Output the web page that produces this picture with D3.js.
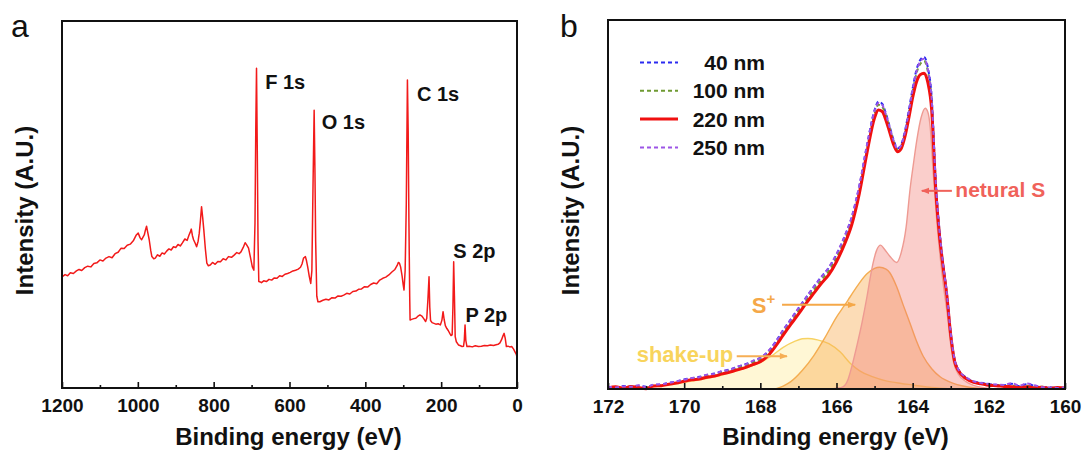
<!DOCTYPE html>
<html>
<head>
<meta charset="utf-8">
<script src="https://cdn.jsdelivr.net/npm/d3@7"></script>
<style>
  body { margin: 0; background: #fff; }
  text { font-family: "Liberation Sans", Arial, sans-serif; }
</style>
</head>
<body>
<div id="chart"></div>
<script>

// ---- panel a : survey spectrum (binding energy eV, intensity a.u.) ----
const surveyE = [1200,1192,1185,1178,1170,1162,1155,1148,1140,1132,1124,1116,1108,1100,1092,1084,1076,1068,1060,1052,
  1044,1036,1028,1020,1012,1004,999,994,990,986,983,980,977,974,970,966,963,958,954,948,942,936,930,924,918,912,906,900,
  894,888,882,876,870,865,862,859,856,853,849,845,841,838,835,832,829,826,822,818,814,809,803,796,789,782,775,768,761,753,
  746,739,733,728,722,717,713,708,703,698,694,691,689,687,685,683,681,677,674,668,661,654,647,640,633,626,619,612,605,598,
  591,584,577,571,567,563,558,555,552,548,544,541,538,535,533,531,528,525,520,512,504,496,488,480,472,464,457,449,441,433,
  425,418,410,402,394,386,378,370,362,354,346,338,330,322,316,313,310,307,303,300,298,295,292,289,287,285,283,282,278,272,
  267,262,256,251,246,241,238,235,232,230,228,224,219,214,208,202,198,195,192,189,185,181,177,174,171,169,167,165,163,160,
  154,149,145,141,139,137,135,132,126,118,110,102,94,86,78,70,62,55,50,45,41,37,34,31,28,24,19,14,9,5,2,0];
const surveyI = [30.3,30.9,30.6,31.4,31.2,31.9,32.3,32.0,32.8,33.2,33.0,33.9,34.1,34.9,34.6,35.4,35.8,35.5,36.6,37.0,
  38.1,38.0,38.9,39.2,40.1,41.7,42.2,40.9,40.4,41.2,41.7,43.0,44.1,42.5,40.4,37.5,35.8,35.2,35.4,36.3,35.9,36.8,36.5,37.3,37.9,37.6,38.5,38.3,
  39.1,38.7,39.6,40.6,40.2,41.7,42.4,43.3,41.5,40.4,39.5,38.5,40.0,42.2,45.5,49.4,46.5,43.1,38.0,34.0,33.3,33.5,34.2,33.7,34.5,34.4,35.2,34.9,35.8,35.6,
  36.2,36.9,36.6,37.1,38.3,39.6,39.0,38.1,35.6,33.0,32.1,45,70,87.1,65,40,29.0,28.9,28.7,29.2,29.0,29.6,29.4,30.0,29.9,30.6,30.4,31.0,31.2,31.5,
  31.9,32.1,32.4,32.9,33.8,35.4,35.8,34.6,33.0,30.5,28.5,32,55,75.7,60,40,25,23.5,23.5,23.9,24.2,24.0,24.6,24.5,25.1,25.0,25.3,25.8,25.6,26.3,
  26.4,26.9,27.0,27.6,27.5,28.2,28.6,28.4,29.4,29.9,30.2,30.8,31.6,32.3,33.4,34.2,34.0,33.0,30.5,28.0,26.7,32,50,83.9,70,45,25,18.5,18.7,18.9,
  19.0,19.5,19.9,19.6,18.9,18.1,19,24,30.3,22,18.4,17.8,17.6,17.4,17.5,17.2,18.5,20.8,18.6,17.0,16.2,15.6,14.8,14.3,14.5,22,34.4,25,14,12.6,
  11.7,11.5,11.3,11.4,13,17.2,13,11.3,11.4,11.2,11.5,11.3,11.4,11.6,11.5,11.7,11.6,11.8,11.9,12.3,13.1,14.2,14.9,13.5,11.3,11.4,11.2,11.3,10.6,9.8,9.2,8.5];

const surveyTicks = [1200,1000,800,600,400,200,0];
const surveyMinor = [1100,900,700,500,300,100];
const peakNames = ["F 1s","O 1s","C 1s","S 2p","P 2p"];
const peakLabelE = [664,515,264,168,136];
const peakLabelI = [81.4,70.5,78.2,35.3,17.9];

// ---- panel b : S 2p high resolution ----
const sE = [172.0,171.8,171.6,171.4,171.2,171.0,170.8,170.6,170.4,170.2,170.0,169.8,169.6,169.4,169.2,169.0,168.8,168.6,168.4,168.2,
  168.0,167.8,167.6,167.4,167.2,167.0,166.8,166.6,166.4,166.2,166.0,165.8,165.6,165.4,165.2,165.0,164.9,164.8,164.7,164.6,
  164.5,164.4,164.3,164.2,164.1,164.0,163.9,163.8,163.7,163.6,163.5,163.4,163.3,163.2,163.1,163.0,162.9,162.8,162.6,162.4,
  162.2,162.0,161.8,161.6,161.4,161.2,161.0,160.8,160.6,160.4,160.2,160.0];
const s40 = [0.5,0.3,0.8,0.5,0.9,0.6,1.1,1.2,1.7,2.0,2.6,2.9,3.3,3.8,4.2,4.8,5.3,6.0,6.7,7.5,
  8.5,10.1,12.8,15.9,18.9,21.8,24.8,27.6,30.4,32.9,36.4,41.0,46.5,55.0,66.0,75.6,77.9,77.3,74.6,71.0,
  67.5,65.2,66.3,70.0,75.5,81.5,86.5,89.2,90.0,87.0,79.0,57.5,43.5,34.0,25.8,15.2,8.1,5.4,3.1,2.0,
  1.7,1.3,1.1,1.0,1.4,0.8,1.3,0.9,0.4,0.5,0.2,0.4];
const s100 = [0.4,0.5,0.4,0.8,0.6,0.4,0.9,1.0,1.5,1.8,2.3,2.7,3.0,3.5,3.9,4.5,5.0,5.6,6.3,7.1,
  8.0,9.6,12.2,15.3,18.2,21.1,24.0,26.8,29.5,32.0,35.5,40.0,45.5,54.0,65.0,74.6,77.0,76.5,74.0,70.5,
  67.0,64.9,65.9,69.4,74.8,80.6,85.5,88.1,88.8,86.0,78.0,56.5,43.0,33.6,25.4,14.9,7.8,5.2,3.0,1.9,
  1.5,1.2,1.0,0.8,0.9,0.6,0.9,0.5,0.6,0.3,0.4,0.3];
const s220 = [0.3,0.6,0.2,0.7,0.4,0.1,0.8,0.9,1.3,1.6,2.1,2.5,2.7,3.2,3.5,4.1,4.6,5.2,5.8,6.6,
  7.4,9.0,11.6,14.6,17.5,20.3,23.2,25.9,28.6,31.0,34.5,39.0,44.5,53.0,64.0,73.5,75.6,75.2,72.8,69.5,
  66.2,64.3,65.2,68.5,73.5,79.0,83.2,85.2,85.6,83.0,75.5,55.0,42.0,33.0,25.0,14.5,7.5,5.0,2.8,1.8,
  1.4,1.0,0.9,0.7,0.6,0.4,0.6,0.3,0.5,0.2,0.4,0.3];
const s250 = [0.6,0.4,0.7,0.6,1.0,0.5,1.2,1.3,1.6,2.1,2.5,3.0,3.2,3.9,4.1,4.9,5.2,6.1,6.6,7.6,
  8.4,10.2,12.7,16.0,18.8,21.9,24.7,27.7,30.3,33.0,36.6,41.1,46.7,55.2,66.1,75.3,77.5,77.0,74.3,70.8,
  67.3,65.1,66.1,69.8,75.2,81.2,86.0,88.8,89.5,86.6,78.6,57.2,43.3,33.8,25.6,15.0,8.0,5.3,3.2,2.1,
  1.6,1.4,1.2,1.1,1.6,0.9,1.5,1.0,0.5,0.4,0.3,0.4];

// fitted components
const shakeE = [171.4,171.0,170.6,170.3,170.0,169.6,169.2,168.8,168.4,168.0,167.7,167.4,167.1,166.9,166.75,166.5,166.2,165.9,165.64,165.4,165.04,164.7,164.3,164.0,163.5,163.0];
const shakeI = [0,0.5,0.9,1.3,1.8,2.5,3.3,4.4,5.7,7.2,9.0,11.3,12.9,13.6,13.7,13.3,12.3,10.0,7.0,5.0,3.3,2.2,1.5,1.1,0.4,0];
const splusE = [167.6,167.4,167.2,166.9,166.6,166.3,166.0,165.8,165.64,165.4,165.2,165.0,164.87,164.7,164.6,164.42,164.25,164.07,163.9,163.72,163.5,163.28,162.95,162.68,162.3,162.0];
const splusI = [0,0.8,2.0,5.0,9.0,14.0,19.5,22.5,25.0,28.7,31.2,32.7,33.0,32.5,31.5,27.7,22.8,17.8,13.0,8.8,5.5,3.3,1.6,0.8,0.2,0];
const neutE = [166.2,166.0,165.83,165.7,165.6,165.47,165.33,165.2,165.1,165.04,164.95,164.84,164.75,164.6,164.42,164.3,164.17,164.07,163.98,163.89,163.78,163.67,163.6,163.54,163.46,163.37,163.28,163.18,163.1,163.0,162.93,162.8,162.6,162.4,162.1,161.8];
const neutI = [0,0.2,0.6,2.5,6,11.5,18,25,31,34.1,37.5,39,38,36,34.3,37,44,54,61,67.5,73.5,76.1,75,71,58.5,46,36,27,21,12,7.5,4,2,1,0.3,0];

const sTicks = [172,170,168,166,164,162,160];
const sMinor = [171,169,167,165,163,161];
const legendNames = ["40 nm","100 nm","220 nm","250 nm"];

// ---- layout ----
const width = 1086, height = 452;
const boxA = {left: 62, right: 517, top: 21, bottom: 388};
const boxB = {left: 608, right: 1065, top: 20, bottom: 389};
const font = '"Liberation Sans", Arial, sans-serif';

const svg = d3.select("#chart").append("svg")
  .attr("width", width).attr("height", height);

// arrow heads
const defs = svg.append("defs");
[["arRed","#f0625a"],["arOrange","#f5a848"],["arOrange2","#f6ae55"]].forEach(([id, c]) => {
  defs.append("marker").attr("id", id)
    .attr("viewBox", "0 0 10 10").attr("refX", 9).attr("refY", 5)
    .attr("markerWidth", 9).attr("markerHeight", 8)
    .attr("markerUnits", "userSpaceOnUse").attr("orient", "auto")
    .append("path").attr("d", "M0,1 L10,5 L0,9 Z").attr("fill", c);
});

function drawAxis(box, x, major, minor) {
  const gx = svg.append("g")
    .attr("transform", `translate(0,${box.bottom})`)
    .call(d3.axisBottom(x).tickValues(major).tickSizeInner(-6).tickSizeOuter(0)
      .tickPadding(11).tickFormat(d3.format("d")));
  gx.select(".domain").remove();
  gx.selectAll("line").attr("stroke", "#111").attr("stroke-width", 1.6);
  gx.selectAll("text").attr("font-family", font).attr("font-size", 19)
    .attr("font-weight", "bold").attr("fill", "#111");
  const gm = svg.append("g")
    .attr("transform", `translate(0,${box.bottom})`)
    .call(d3.axisBottom(x).tickValues(minor).tickSizeInner(-3).tickSizeOuter(0).tickFormat(""));
  gm.select(".domain").remove();
  gm.selectAll("line").attr("stroke", "#111").attr("stroke-width", 1.6);

  svg.append("rect")
    .attr("x", box.left).attr("y", box.top)
    .attr("width", box.right - box.left).attr("height", box.bottom - box.top)
    .attr("fill", "none").attr("stroke", "#111").attr("stroke-width", 2);

  const cx = (box.left + box.right) / 2;
  svg.append("text").attr("x", cx - 1).attr("y", 445)
    .attr("text-anchor", "middle").attr("font-size", 24).attr("font-weight", "bold")
    .attr("fill", "#111").text("Binding energy (eV)");
  svg.append("text")
    .attr("transform", `translate(${box.left - 29},${(box.top + box.bottom) / 2 + 6}) rotate(-90)`)
    .attr("text-anchor", "middle").attr("font-size", 24).attr("font-weight", "bold")
    .attr("fill", "#111").text("Intensity (A.U.)");
}

// ================= panel a =================
const xA = d3.scaleLinear().domain([1200, 0]).range([boxA.left, boxA.right]);
const yA = d3.scaleLinear().domain([0, 100]).range([boxA.bottom, boxA.top]);

const lineA = d3.line().x(d => xA(d[0])).y(d => yA(d[1]));
svg.append("path")
  .datum(d3.zip(surveyE, surveyI))
  .attr("d", lineA)
  .attr("fill", "none").attr("stroke", "#f21a1a").attr("stroke-width", 1.5)
  .attr("stroke-linejoin", "round");

peakNames.forEach((t, i) => {
  svg.append("text").attr("x", xA(peakLabelE[i])).attr("y", yA(peakLabelI[i]))
    .attr("font-size", 20).attr("font-weight", "bold").attr("fill", "#111").text(t);
});

drawAxis(boxA, xA, surveyTicks, surveyMinor);

svg.append("text").attr("x", 11).attr("y", 37).attr("font-size", 32).attr("fill", "#111").text("a");

// ================= panel b =================
const xB = d3.scaleLinear().domain([172, 160]).range([boxB.left, boxB.right]);
const yB = d3.scaleLinear().domain([0, 100]).range([boxB.bottom, boxB.top]);

const areaB = d3.area().curve(d3.curveMonotoneX)
  .x(d => xB(d[0])).y0(yB(0)).y1(d => yB(d[1]));
const lineB = d3.line().curve(d3.curveMonotoneX)
  .x(d => xB(d[0])).y(d => yB(d[1]));

const comps = [
  {e: shakeE, v: shakeI, fill: "rgba(255,234,150,0.40)", stroke: "#f7d263"},
  {e: splusE, v: splusI, fill: "rgba(247,172,80,0.42)", stroke: "#f4ad50"},
  {e: neutE,  v: neutI,  fill: "rgba(242,125,118,0.38)", stroke: "#ee9a92"}
];
comps.forEach(c => {
  const pts = d3.zip(c.e, c.v);
  svg.append("path").datum(pts).attr("d", areaB).attr("fill", c.fill);
  svg.append("path").datum(pts).attr("d", lineB)
    .attr("fill", "none").attr("stroke", c.stroke).attr("stroke-width", 1.4);
});

const series = [
  {v: s40,  color: "#2b2bf0", dash: "4,3", w: 2},
  {v: s100, color: "#6f9a32", dash: "4,3", w: 2},
  {v: s220, color: "#f01010", dash: null,  w: 3},
  {v: s250, color: "#9c55e6", dash: "4,3", w: 2}
];
series.forEach(s => {
  svg.append("path").datum(d3.zip(sE, s.v)).attr("d", lineB)
    .attr("fill", "none").attr("stroke", s.color).attr("stroke-width", s.w)
    .attr("stroke-dasharray", s.dash).attr("stroke-linejoin", "round");
});

// annotations
svg.append("line").attr("x1", xB(162.97)).attr("x2", xB(163.76))
  .attr("y1", yB(53.7)).attr("y2", yB(53.7))
  .attr("stroke", "#f0625a").attr("stroke-width", 2).attr("marker-end", "url(#arRed)");
svg.append("text").attr("x", xB(162.88)).attr("y", yB(51.9))
  .attr("font-size", 21).attr("font-weight", "bold").attr("fill", "#f0625a").text("netural S");

svg.append("line").attr("x1", xB(167.43)).attr("x2", xB(165.51))
  .attr("y1", yB(22.8)).attr("y2", yB(22.8))
  .attr("stroke", "#f5a848").attr("stroke-width", 2).attr("marker-end", "url(#arOrange)");
const sp = svg.append("text").attr("x", xB(167.61)).attr("y", yB(20.6))
  .attr("text-anchor", "end").attr("font-size", 22).attr("font-weight", "bold").attr("fill", "#f5a848");
sp.append("tspan").text("S");
sp.append("tspan").attr("dy", -9).attr("font-size", 15).text("+");

svg.append("line").attr("x1", xB(168.62)).attr("x2", xB(167.30))
  .attr("y1", yB(8.9)).attr("y2", yB(8.9))
  .attr("stroke", "#f6ae55").attr("stroke-width", 2).attr("marker-end", "url(#arOrange2)");
svg.append("text").attr("x", xB(168.71)).attr("y", yB(7.4))
  .attr("text-anchor", "end").attr("font-size", 22).attr("font-weight", "bold").attr("fill", "#f8d45c").text("shake-up");

// legend
const leg = svg.append("g");
legendNames.forEach((n, i) => {
  const cy = 62.5 + i * 28.3;
  leg.append("line").attr("x1", 640).attr("x2", 678).attr("y1", cy).attr("y2", cy)
    .attr("stroke", series[i].color).attr("stroke-width", series[i].w)
    .attr("stroke-dasharray", series[i].dash);
  leg.append("text").attr("x", 765).attr("y", cy + 7.5).attr("text-anchor", "end")
    .attr("font-size", 21).attr("font-weight", "bold").attr("fill", "#111").text(n);
});

drawAxis(boxB, xB, sTicks, sMinor);

svg.append("text").attr("x", 560).attr("y", 37).attr("font-size", 32).attr("fill", "#111").text("b");

</script>
</body>
</html>
